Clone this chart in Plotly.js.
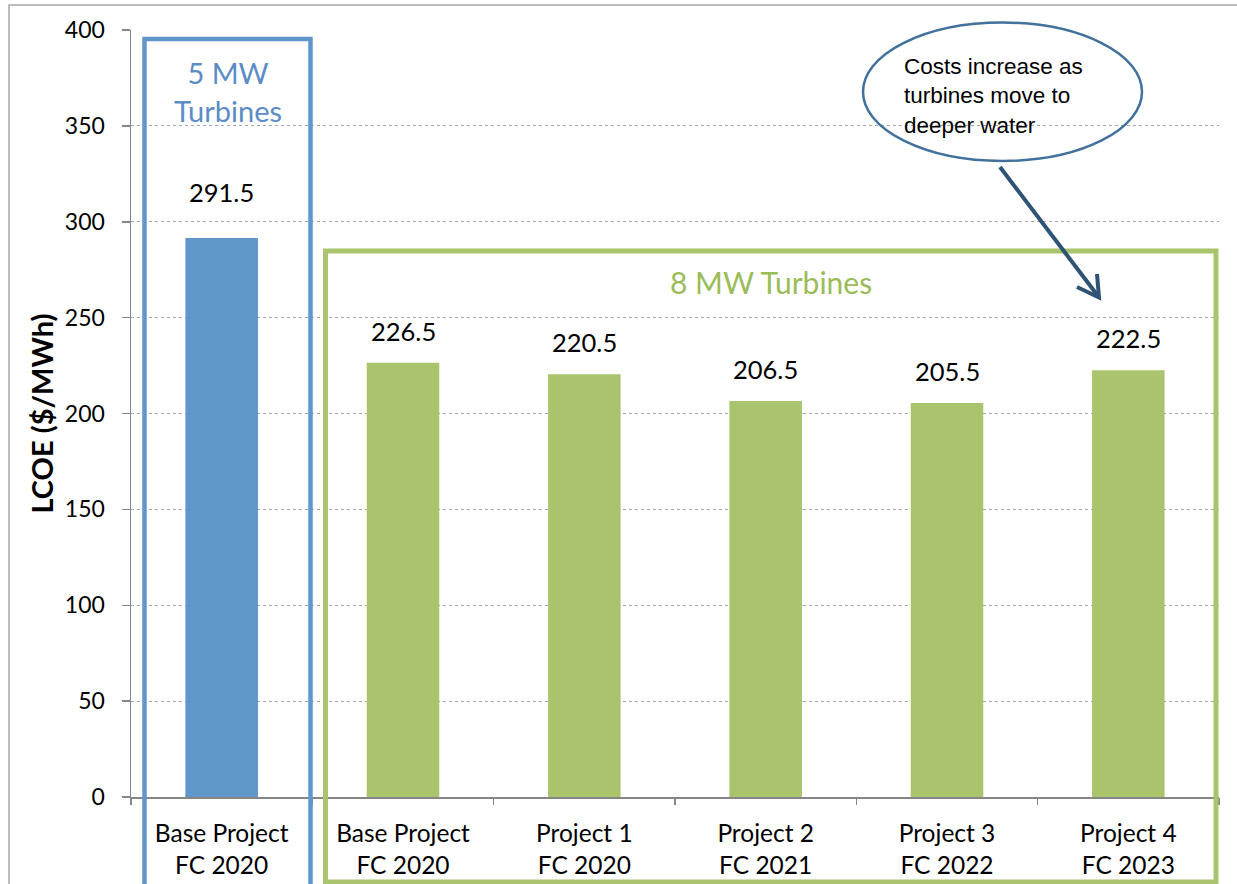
<!DOCTYPE html>
<html><head><meta charset="utf-8">
<script src="https://cdn.plot.ly/plotly-3.0.1.min.js"></script>
<style>html,body{margin:0;padding:0;background:#fff;} #chart{width:1237px;height:884px;}</style>
</head><body><div id="chart"></div>
<script>
// ---- data ----
const categories = ["Base Project<br>FC 2020", "Base Project<br>FC 2020", "Project 1<br>FC 2020", "Project 2<br>FC 2021", "Project 3<br>FC 2022", "Project 4<br>FC 2023"];
const turbineGroup = ["5 MW", "8 MW", "8 MW", "8 MW", "8 MW", "8 MW"];
const lcoe = [291.5, 226.5, 220.5, 206.5, 205.5, 222.5];
const yTickVals = [0, 50, 100, 150, 200, 250, 300, 350, 400];
const yTitle = "LCOE ($/MWh)";
const group5Label = "5 MW<br>Turbines";
const group8Label = "8 MW Turbines";
const calloutLines = ["Costs increase as", "turbines move to", "deeper water"];

// ---- styling ----
const W = 1237, H = 884, M = {l: 131, r: 18, t: 30, b: 87};
const BLUE = "#6096c9", GREEN = "#a9c46c";
const BLUE_TXT = "#5b8cc7", GREEN_TXT = "#9bbb59";
const FONT = "Lato, 'Open Sans', sans-serif";
const px = x => (x - M.l) / (W - M.l - M.r);
const py = y => (H - M.b - y) / (H - M.t - M.b);

const idx = categories.map((_, i) => i);
const colors = turbineGroup.map(g => g === "5 MW" ? BLUE : GREEN);

const traces = [
  {type: "bar", x: idx, y: lcoe, marker: {color: colors}, hoverinfo: "skip", showlegend: false},
  {type: "scatter", x: [-0.5, categories.length - 0.5], y: [0, 0], xaxis: "x2", mode: "none", hoverinfo: "skip", showlegend: false}
];

const annotations = [];
lcoe.forEach((v, i) => {
  annotations.push({x: i, y: v, xref: "x", yref: "y", text: v.toFixed(1), showarrow: false,
    yanchor: "middle", yshift: turbineGroup[i] === "5 MW" ? 46 : 32,
    font: {family: FONT, size: 25.5, color: "#000"}});
});
annotations.push({x: px(228), y: py(91), xref: "paper", yref: "paper", text: group5Label, showarrow: false,
  xanchor: "center", yanchor: "middle", font: {family: FONT, size: 29, color: BLUE_TXT}});
annotations.push({x: px(771), y: py(282), xref: "paper", yref: "paper", text: group8Label, showarrow: false,
  xanchor: "center", yanchor: "middle", font: {family: FONT, size: 30, color: GREEN_TXT}});
annotations.push({x: px(902), y: py(96), xref: "paper", yref: "paper", text: calloutLines.join("<br>"), showarrow: false,
  xanchor: "left", yanchor: "middle", align: "left",
  font: {family: "'Liberation Sans', Arial, sans-serif", size: 22.5, color: "#000"}});
annotations.push({x: px(41), y: 0.5, xref: "paper", yref: "paper", text: "<b>" + yTitle + "</b>", showarrow: false,
  textangle: -90, xanchor: "center", yanchor: "middle", font: {family: FONT, size: 29, color: "#000"}});

const shapes = [
  {type: "rect", xref: "paper", yref: "paper", x0: px(9), x1: px(1260), y0: py(910), y1: py(5),
    line: {color: "#a6a6a6", width: 1.5}, layer: "below"},
  {type: "rect", xref: "paper", yref: "paper", x0: px(144.5), x1: px(310.5), y0: py(910), y1: py(39),
    line: {color: BLUE, width: 4.5}},
  {type: "rect", xref: "paper", yref: "paper", x0: px(325.5), x1: px(1216), y0: py(882), y1: py(251),
    line: {color: GREEN, width: 5}},
  {type: "circle", xref: "paper", yref: "paper", x0: px(863), x1: px(1142), y0: py(161), y1: py(22.5),
    line: {color: "#41719c", width: 2.5}},
  {type: "line", xref: "paper", yref: "paper", x0: px(1000), y0: py(167), x1: px(1098), y1: py(296),
    line: {color: "#2e5375", width: 4}},
  {type: "path", xref: "paper", yref: "paper",
    path: `M ${px(1077)},${py(287)} L ${px(1099)},${py(297.5)} L ${px(1097)},${py(274)}`,
    line: {color: "#2e5375", width: 4}}
];

const layout = {
  width: W, height: H, margin: M, paper_bgcolor: "#fff", plot_bgcolor: "rgba(0,0,0,0)",
  bargap: 0.6, showlegend: false,
  xaxis: {type: "linear", range: [-0.5, categories.length - 0.5], tickmode: "array", tickvals: idx, ticktext: categories,
    ticks: "", showgrid: false, zeroline: false, showline: true, linecolor: "#868686", linewidth: 1.5,
    tickfont: {family: FONT, size: 24.5, color: "#000"}, ticklabelstandoff: 14, fixedrange: true},
  xaxis2: {overlaying: "x", side: "bottom", range: [-0.5, categories.length - 0.5], tickmode: "array",
    tickvals: idx.concat([categories.length]).map(i => i - 0.5), showticklabels: false,
    ticks: "outside", ticklen: 7, tickcolor: "#868686", tickwidth: 1.5, showgrid: false, zeroline: false, showline: false},
  yaxis: {range: [0, 400], tickmode: "array", tickvals: yTickVals, ticks: "outside", ticklen: 8, tickcolor: "#868686", tickwidth: 1.5,
    showline: true, linecolor: "#868686", linewidth: 1.5, zeroline: false,
    showgrid: true, gridcolor: "#a6a6a6", griddash: "dot", gridwidth: 1.2,
    tickfont: {family: FONT, size: 23, color: "#000"}, ticklabelstandoff: 12, fixedrange: true},
  annotations: annotations, shapes: shapes
};

Plotly.newPlot("chart", traces, layout, {staticPlot: true, displayModeBar: false});
</script></body></html>
